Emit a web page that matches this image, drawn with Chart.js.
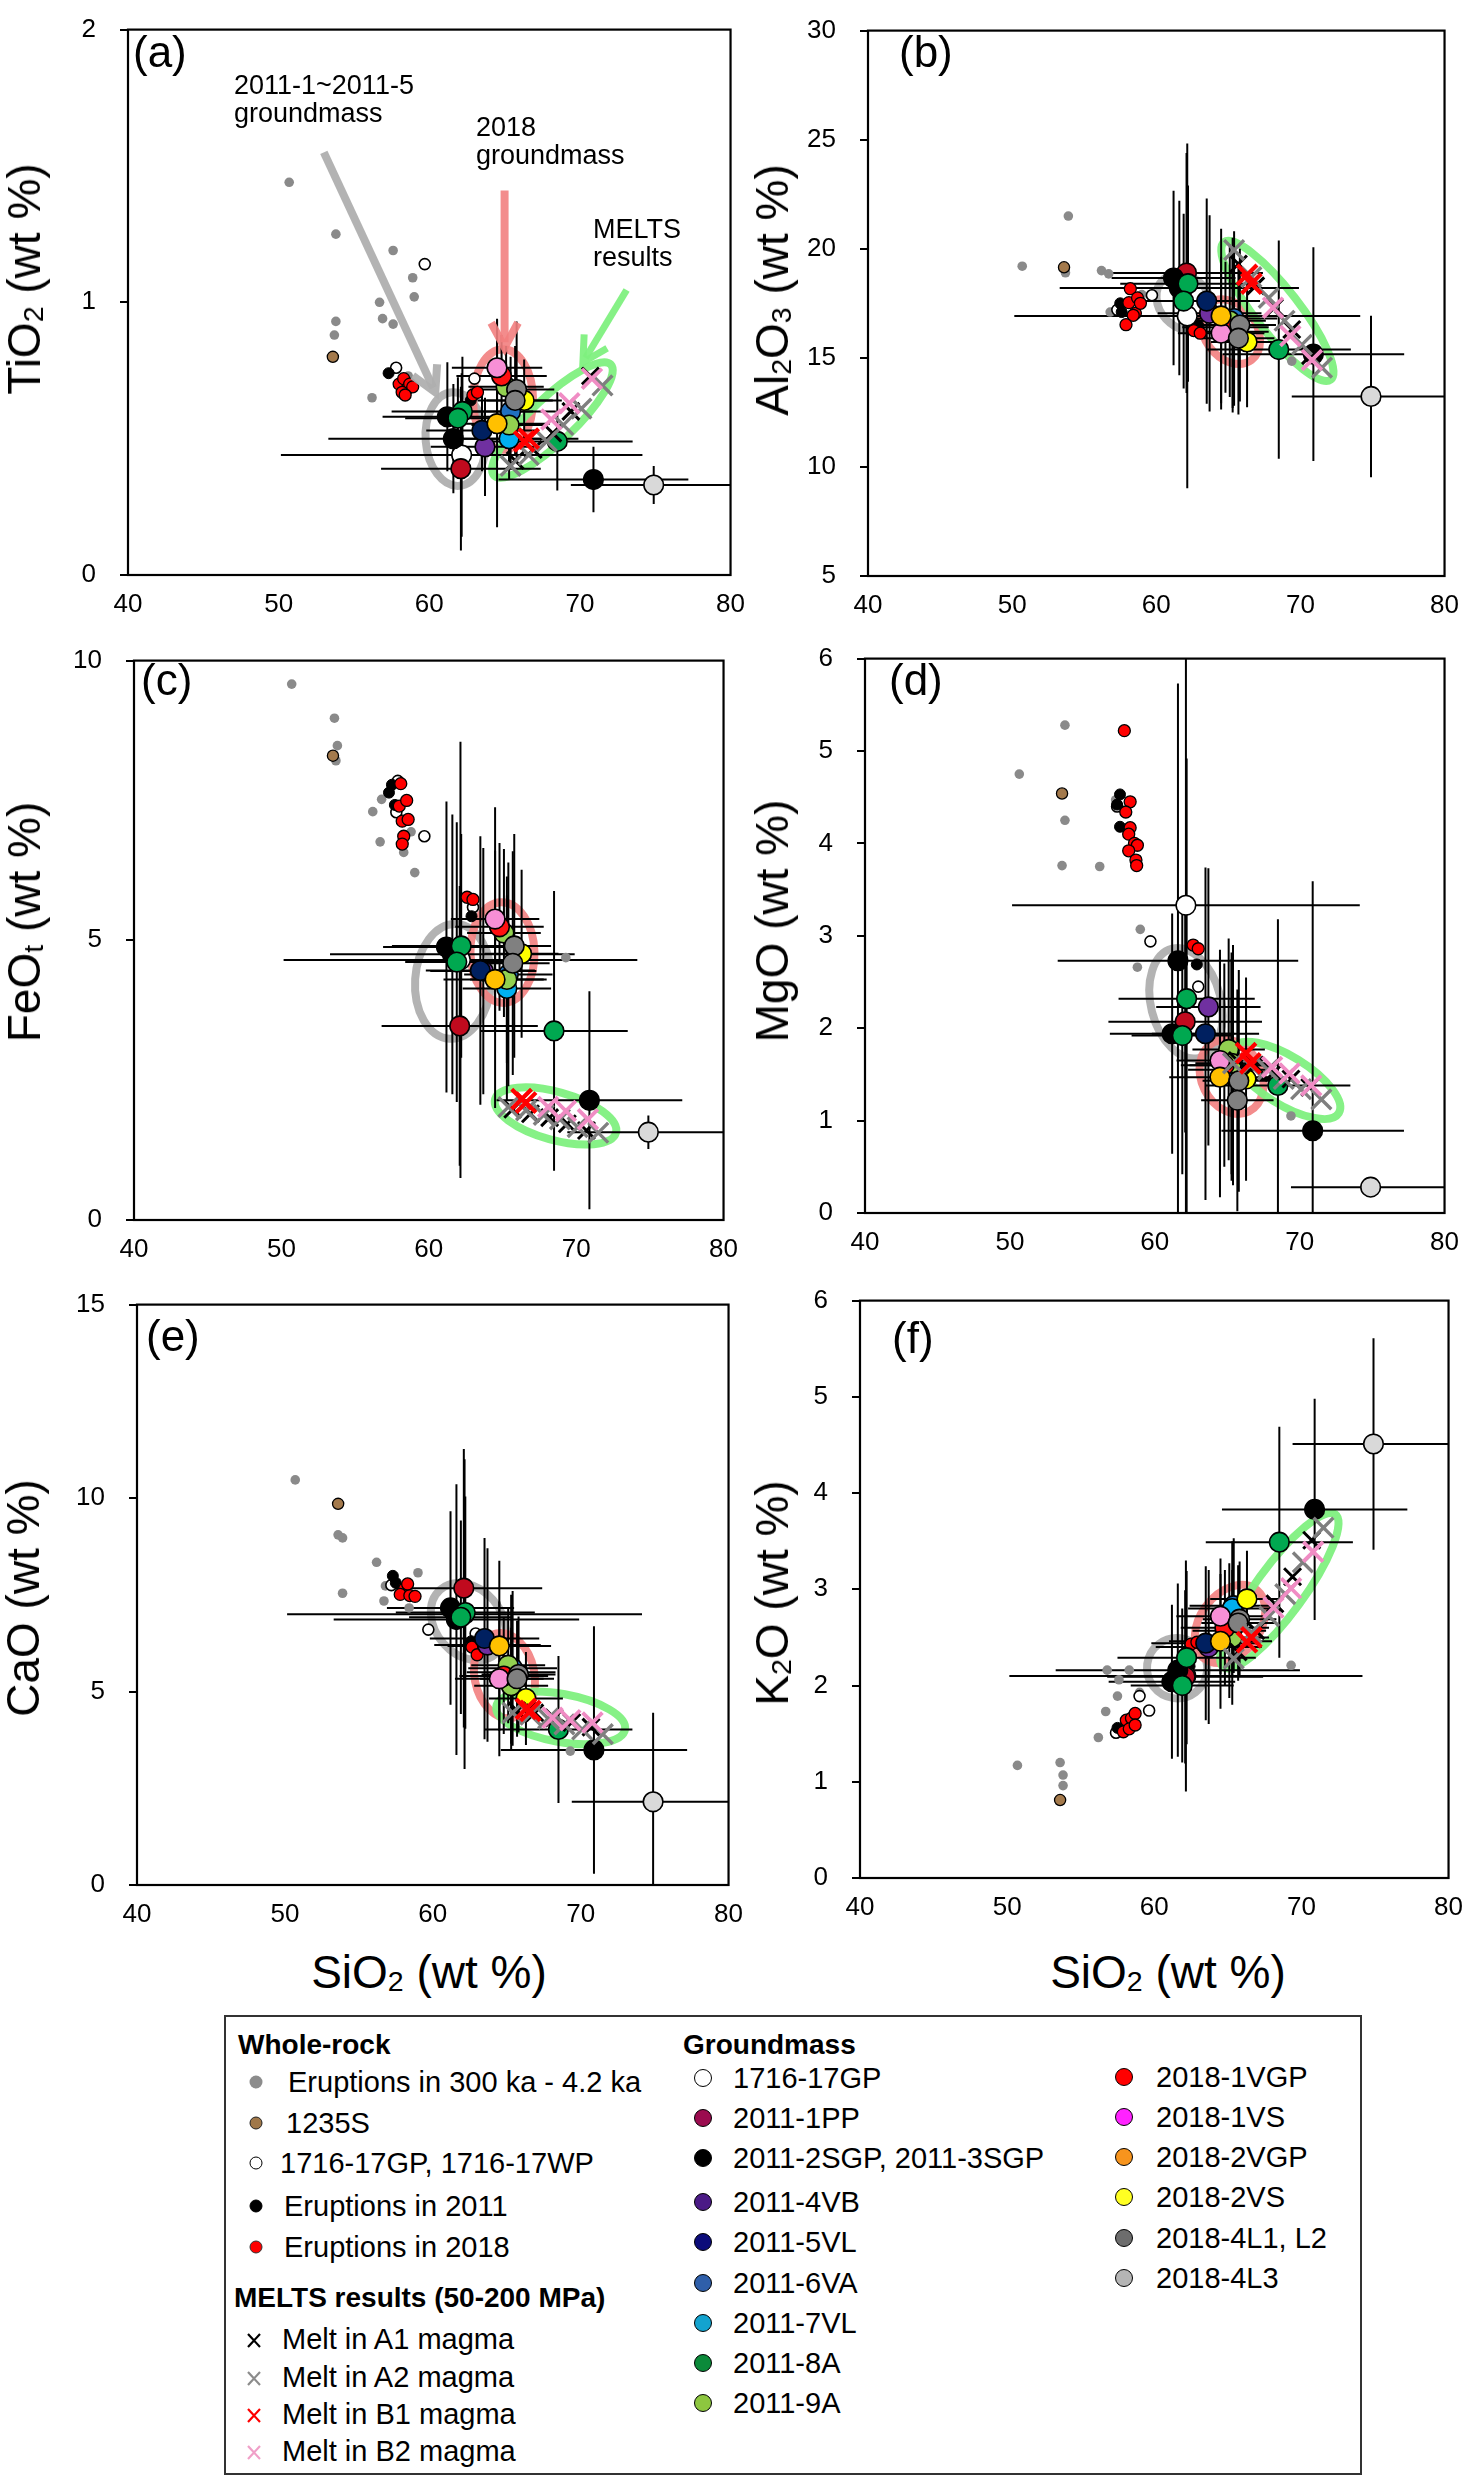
<!DOCTYPE html>
<html>
<head>
<meta charset="utf-8">
<title>SiO2 variation diagrams</title>
<script src="https://cdn.jsdelivr.net/npm/chart.js@4.4.1/dist/chart.umd.min.js"></script>
<style>
  body { margin: 0; background: #fff; }
  #page { position: relative; width: 1466px; height: 2476px; overflow: hidden;
          font-family: "Liberation Sans", Arial, Helvetica, sans-serif; color: #000; }
  #page canvas { position: absolute; }
  .lbl { position: absolute; white-space: nowrap; line-height: 1; }
  .ytitle { font-size: 46px; transform: translate(-50%, -50%) rotate(-90deg); }
  .xtitle { font-size: 46px; transform: translate(-50%, -50%); }
  .plabel { font-size: 44px; transform: translateY(-50%); }
  .note { position: absolute; font-size: 27px; line-height: 28px; white-space: nowrap; }
  .sub { font-size: 0.62em; position: relative; top: 0.12em; }
  #legend { position: absolute; left: 224px; top: 2015px; width: 1138px; height: 460px;
            border: 2px solid #333; box-sizing: border-box; font-size: 29px; }
  #legend .row { position: absolute; white-space: nowrap; line-height: 1; transform: translateY(-50%); }
  #legend .head { font-weight: bold; font-size: 28px; }
  .dot { position: absolute; border-radius: 50%; box-sizing: border-box; transform: translate(-50%, -50%); }
  .xmark { position: absolute; transform: translate(-50%, -50%); }
</style>
</head>
<body>
<div id="page"></div>
<script>
// ---------------- data ----------------
const sio2Min = 40, sio2Max = 80, sio2Step = 10;
const oxides = ['TiO2', 'Al2O3', 'FeOt', 'MgO', 'CaO', 'K2O'];
const oxideMin = [0, 5, 0, 0, 0, 0];
const oxideMax = [2, 30, 10, 6, 15, 6];
const oxideStep = [1, 5, 5, 1, 5, 1];

// whole-rock analyses, [SiO2, oxide] pairs for each panel
const wrOld = {
  TiO2: [[50.7,1.44],[53.8,1.25],[57.6,1.19],[58.9,1.09],[59.0,1.02],[56.7,1.00],[56.9,0.94],[53.8,0.93],[57.6,0.92],[53.7,0.88],[56.2,0.65],[58.6,0.73]],
  Al2O3: [[50.7,19.2],[53.9,21.5],[53.7,18.9],[56.2,19.0],[56.7,18.85],[56.8,17.1],[57.4,17.3],[59.0,17.9],[69.4,14.85]],
  FeOt: [[50.7,9.58],[53.6,8.97],[53.8,8.48],[53.7,8.21],[56.8,7.52],[56.2,7.3],[56.7,6.76],[58.3,6.57],[58.8,6.94],[59.05,6.21],[69.3,4.69]],
  MgO: [[53.8,5.28],[50.65,4.75],[53.8,4.25],[53.6,3.76],[56.2,3.75],[59.0,3.07],[58.8,2.66],[69.4,1.05],[57.3,4.47]],
  CaO: [[50.7,10.47],[53.6,9.05],[53.9,8.97],[56.2,8.34],[53.9,7.54],[56.7,7.34],[59.0,8.07],[58.4,7.16],[69.3,3.46],[56.8,7.73]],
  K2O: [[50.7,1.17],[53.6,1.20],[53.8,1.07],[53.8,0.96],[56.2,1.46],[56.7,1.73],[57.5,1.89],[57.6,2.06],[56.8,2.16],[58.3,2.16],[59.0,1.93],[69.3,2.21]]
};
const wr1235 = {
  TiO2: [[53.6,0.80]], Al2O3: [[53.6,19.15]], FeOt: [[53.5,8.3]],
  MgO: [[53.6,4.54]], CaO: [[53.6,9.85]], K2O: [[53.6,0.81]]
};
const wr1716 = {
  TiO2: [[59.7,1.14],[57.8,0.76],[63.0,0.72]],
  Al2O3: [[59.7,17.87],[62.4,16.7],[57.3,17.2]],
  FeOt: [[59.7,6.86],[63.0,5.59],[57.8,7.29],[57.9,7.85]],
  MgO: [[59.7,2.94],[63.0,2.45],[57.4,4.4]],
  CaO: [[59.7,6.6],[57.2,7.75],[62.9,6.5]],
  K2O: [[59.65,1.74],[57.4,1.51],[59.0,1.89]]
};
const wr2011 = {
  TiO2: [[57.3,0.74],[62.75,0.64]],
  Al2O3: [[57.5,17.5],[57.6,17.1],[62.9,16.5]],
  FeOt: [[57.5,7.78],[57.3,7.64],[57.7,7.42],[62.9,5.43]],
  MgO: [[57.6,4.53],[57.4,4.42],[57.6,4.18],[62.9,2.69]],
  CaO: [[57.3,7.99],[57.5,7.81],[62.6,6.3]],
  K2O: [[57.5,1.56],[62.4,2.2]]
};
const wr2018 = {
  TiO2: [[58.0,0.70],[58.3,0.72],[58.5,0.68],[58.7,0.70],[58.2,0.67],[58.9,0.69],[58.4,0.66],[62.9,0.66],[63.2,0.67]],
  Al2O3: [[58.2,18.17],[58.1,17.53],[58.7,17.75],[58.55,17.04],[58.4,16.95],[57.9,16.52],[58.9,17.5],[62.6,16.25],[63.05,16.13]],
  FeOt: [[58.0,7.4],[58.2,7.13],[58.6,7.16],[58.3,6.86],[58.2,6.72],[58.5,7.5],[62.6,5.77],[63.0,5.73],[58.1,7.8]],
  MgO: [[57.9,5.22],[58.3,4.45],[58.0,4.34],[58.3,4.17],[58.2,4.1],[58.6,4.0],[58.8,3.98],[58.2,3.92],[58.7,3.82],[58.75,3.76],[62.65,2.9],[63.0,2.86]],
  CaO: [[58.1,7.66],[57.8,7.51],[58.45,7.48],[58.8,7.46],[58.3,7.78],[62.65,6.15],[63.0,5.95]],
  K2O: [[58.1,1.64],[58.45,1.66],[58.7,1.71],[57.9,1.52],[58.3,1.55],[58.7,1.59],[62.5,2.43],[62.9,2.45]]
};

// groundmass averages (one entry per point) and 1 sigma
const gmSample = ['1716-17GP','2011-1PP','2011-2SGP, 2011-3SGP','2011-2SGP, 2011-3SGP','2011-2SGP, 2011-3SGP',
  '2011-4VB','2011-5VL','2011-6VA','2011-7VL','2011-8A','2011-8A','2011-8A','2011-9A','2011-9A',
  '2018-1VGP','2018-1VS','2018-2VGP','2018-2VS','2018-4L1, L2','2018-4L1, L2','2018-4L3'];
const gmSiO2    = [62.15,62.1,61.6,61.2,70.9,63.7,63.5,65.4,65.3,62.2,61.9,68.5,65.1,65.3,64.8,64.5,64.5,66.3,65.8,65.7,74.9];
const gmSiO2Err = [12,5.3,8.3,4.3,6.3,3.6,3.7,3,3,4.7,3.5,5,2.5,2.5,3,3,3.5,2.5,2.5,2.5,5.5];
const gmTiO2    = [0.44,0.39,0.50,0.58,0.35,0.47,0.53,0.60,0.50,0.60,0.575,0.49,0.69,0.55,0.73,0.76,0.555,0.64,0.68,0.64,0.33];
const gmTiO2Err = [0.3,0.3,0.2,0.2,0.12,0.18,0.15,0.2,0.15,0.2,0.15,0.18,0.15,0.15,0.15,0.18,0.38,0.15,0.25,0.2,0.07];
const gmAl2O3    = [16.92,18.89,18.2,18.66,15.17,17.04,17.6,16.8,16.5,18.4,17.6,15.38,16.7,16.2,16.4,16.13,16.92,15.73,16.5,15.9,13.23];
const gmAl2O3Err = [7.9,5.5,4,4,4.9,4.5,4.7,4,4,4.5,4,5,3.5,3.5,3,3.5,4,3,3.5,3.5,3.7];
const gmFeOt    = [4.65,3.47,4.75,4.88,2.14,4.45,4.46,4.39,4.14,4.9,4.61,3.38,5.13,4.3,5.24,5.38,4.3,4.76,4.9,4.59,1.57];
const gmFeOtErr = [3.9,2.5,2.5,2.6,1.95,2.2,2.4,2,2,2,2.5,2.5,1.5,1.5,1.5,2,2.3,1.5,2,2,0.3];
const gmMgO    = [3.33,2.07,2.73,1.94,0.89,2.23,1.94,1.6,1.55,2.32,1.92,1.38,1.77,1.62,1.6,1.65,1.47,1.45,1.43,1.22,0.28];
const gmMgOErr = [3.5,1.2,3.0,1.3,2.7,1.5,1.8,1.3,1.2,2.6,1.5,1.8,1.2,1.2,1.1,1.2,1.3,1.1,1.2,1.2,0.1];
const gmCaO    = [7.0,7.67,6.86,7.16,3.49,6.2,6.37,5.6,5.5,7.04,6.92,4.02,5.68,5.15,5.4,5.33,6.18,4.82,5.44,5.33,2.15];
const gmCaOErr = [4,3.6,3.5,2.5,3.2,2.5,2.6,2,2,3,2.5,1.9,1.5,1.5,1.5,2,2.2,1.2,1.5,1.5,2.3];
const gmK2O    = [2.1,2.09,2.16,2.04,3.83,2.40,2.44,2.83,2.8,2.29,2.0,3.49,2.57,2.5,2.6,2.72,2.46,2.90,2.69,2.65,4.51];
const gmK2OErr = [1.2,0.9,0.9,0.8,1.15,0.8,0.8,0.7,0.7,0.9,0.8,1.2,0.7,0.7,0.6,0.6,0.7,0.5,0.6,0.6,1.1];
const gmValues = { TiO2: gmTiO2, Al2O3: gmAl2O3, FeOt: gmFeOt, MgO: gmMgO, CaO: gmCaO, K2O: gmK2O };
const gmErrors = { TiO2: gmTiO2Err, Al2O3: gmAl2O3Err, FeOt: gmFeOtErr, MgO: gmMgOErr, CaO: gmCaOErr, K2O: gmK2OErr };

// MELTS melt compositions (50-200 MPa)
const meltA1SiO2 = [65.7, 66.9, 68.2, 69.4, 70.7];
const meltA2SiO2 = [65.4, 66.6, 67.8, 68.9, 70.1, 71.5];
const meltB1SiO2 = [66.3, 66.6];
const meltB2SiO2 = [68.1, 69.3, 70.8];
const meltA1 = { TiO2: [0.42,0.46,0.52,0.60,0.73], Al2O3: [19.3,18.3,17.3,16.3,15.1], FeOt: [1.98,1.90,1.83,1.72,1.60],
                 MgO: [1.65,1.60,1.52,1.45,1.36], CaO: [4.50,4.45,4.32,4.20,4.08], K2O: [2.35,2.57,2.85,3.13,3.51] };
const meltA2 = { TiO2: [0.40,0.44,0.49,0.55,0.61,0.695], Al2O3: [19.94,18.7,17.75,16.7,15.6,14.55], FeOt: [2.02,1.96,1.88,1.80,1.66,1.56],
                 MgO: [1.62,1.60,1.55,1.45,1.34,1.23], CaO: [4.45,4.40,4.30,4.15,4.02,3.90], K2O: [2.28,2.55,2.72,2.95,3.28,3.64] };
const meltB1 = { TiO2: [0.49,0.50], Al2O3: [18.8,18.4], FeOt: [2.16,2.10], MgO: [1.73,1.62], CaO: [4.55,4.50], K2O: [2.45,2.50] };
const meltB2 = { TiO2: [0.57,0.63,0.72], Al2O3: [17.3,16.0,14.9], FeOt: [2.02,1.95,1.80], MgO: [1.58,1.51,1.38], CaO: [4.32,4.26,4.20], K2O: [2.81,3.01,3.39] };

// field outlines: ends of the long axis in data units
const rings = {
  TiO2:  [['2011', [62.0,0.327], [61.5,0.67]], ['2018', [64.9,0.459], [64.9,0.828]], ['melts', [64.3,0.365], [72.05,0.772]]],
  Al2O3: [['2011', [60.5,18.6], [63.4,16.5]], ['2018', [63.7,17.5], [66.6,14.9]], ['melts', [64.7,20.3], [72.1,14.0]]],
  FeOt:  [['2011', [61.9,5.29], [61.4,3.24]], ['2018', [64.9,5.68], [65.1,3.88]], ['melts', [64.5,2.16], [72.7,1.56]]],
  MgO:   [['2011', [61.2,2.86], [63.1,1.68]], ['2018', [64.1,1.85], [66.5,1.10]], ['melts', [65.4,1.79], [72.7,1.08]]],
  CaO:   [['2011', [60.5,7.63], [64.3,5.98]], ['2018', [64.3,6.5], [65.4,4.32]], ['melts', [64.3,4.62], [73.0,4.02]]],
  K2O:   [['2011', [60.3,2.43], [62.8,1.93]], ['2018', [63.4,2.28], [66.9,3.0]], ['melts', [64.7,2.19], [72.3,3.78]]]
};
const ringWidth = { TiO2: [30,30,22], Al2O3: [25,26,22], FeOt: [38,32,24], MgO: [35,30,24], CaO: [33,30,24], K2O: [30,30,24] };
// arrows of panel (a): [kind, tail, head]
const arrowsA = [['2011', [53.0,1.55], [60.4,0.67]], ['2018', [65.0,1.41], [65.0,0.835]], ['melts', [73.1,1.045], [70.2,0.78]]];

// ---------------- styling ----------------
const gmColor = {
  '1716-17GP': '#ffffff', '2011-1PP': '#c00a1e', '2011-2SGP, 2011-3SGP': '#000000', '2011-4VB': '#7030a0',
  '2011-5VL': '#002060', '2011-6VA': '#2070c0', '2011-7VL': '#00b0f0', '2011-8A': '#00a850', '2011-9A': '#92d050',
  '2018-1VGP': '#ff1010', '2018-1VS': '#f78fd6', '2018-2VGP': '#ffc000', '2018-2VS': '#ffff00',
  '2018-4L1, L2': '#808080', '2018-4L3': '#d9d9d9'
};
const ringColor = { '2011': 'rgba(175,175,175,0.95)', '2018': 'rgba(242,128,128,0.9)', 'melts': 'rgba(128,240,128,0.95)' };
// plot rectangles [left, top, right, bottom] in page pixels
const boxes = [[128,12,737,575],[868,13,1451,576],[134,643,730,1220],[865,641,1451,1213],[137,1287,735,1885],[860,1283,1455,1878]];
const padL = 110, padT = 22, padR = 22, padB = 60;

Chart.defaults.font.family = '"Liberation Sans", Arial, Helvetica, sans-serif';
Chart.defaults.color = '#000';

const page = document.getElementById('page');
const pts = arr => arr.map(p => ({ x: p[0], y: p[1] }));
const zip = (xs, ys) => xs.map((x, i) => ({ x: x, y: ys[i] }));

function overlay(ox, k) {
  return {
    id: 'overlay' + k,
    beforeDatasetsDraw(chart) {
      const { ctx, chartArea: a } = chart;
      const sx = chart.scales.x, sy = chart.scales.y;
      ctx.save();
      ctx.beginPath(); ctx.rect(a.left, a.top, a.width, a.height); ctx.clip();
      rings[ox].forEach((r, j) => {
        const x1 = sx.getPixelForValue(r[1][0]), y1 = sy.getPixelForValue(r[1][1]);
        const x2 = sx.getPixelForValue(r[2][0]), y2 = sy.getPixelForValue(r[2][1]);
        ctx.beginPath();
        ctx.ellipse((x1 + x2) / 2, (y1 + y2) / 2, Math.hypot(x2 - x1, y2 - y1) / 2, ringWidth[ox][j],
                    Math.atan2(y2 - y1, x2 - x1), 0, Math.PI * 2);
        ctx.strokeStyle = ringColor[r[0]];
        ctx.lineWidth = 8;
        ctx.stroke();
      });
      ctx.strokeStyle = '#000';
      ctx.lineWidth = 2;
      chart.data.datasets.forEach(ds => {
        if (!ds.errX) return;
        ds.data.forEach((p, i) => {
          const px = sx.getPixelForValue(p.x), py = sy.getPixelForValue(p.y);
          ctx.beginPath();
          ctx.moveTo(sx.getPixelForValue(p.x - ds.errX[i]), py);
          ctx.lineTo(sx.getPixelForValue(p.x + ds.errX[i]), py);
          ctx.moveTo(px, sy.getPixelForValue(p.y - ds.errY[i]));
          ctx.lineTo(px, sy.getPixelForValue(p.y + ds.errY[i]));
          ctx.stroke();
        });
      });
      ctx.restore();
    },
    afterDatasetsDraw(chart) {
      const { ctx, chartArea: a } = chart;
      const sx = chart.scales.x, sy = chart.scales.y;
      if (ox === 'TiO2') {
        arrowsA.forEach(ar => {
          const x1 = sx.getPixelForValue(ar[1][0]), y1 = sy.getPixelForValue(ar[1][1]);
          const x2 = sx.getPixelForValue(ar[2][0]), y2 = sy.getPixelForValue(ar[2][1]);
          const ang = Math.atan2(y2 - y1, x2 - x1);
          ctx.save();
          ctx.strokeStyle = ringColor[ar[0]];
          ctx.lineWidth = ar[0] === 'melts' ? 7 : 8;
          ctx.beginPath();
          ctx.moveTo(x1, y1);
          ctx.lineTo(x2 - 5 * Math.cos(ang), y2 - 5 * Math.sin(ang));
          ctx.stroke();
          ctx.lineJoin = 'miter';
          ctx.beginPath();
          ctx.moveTo(x2 - 28 * Math.cos(ang - 0.5), y2 - 28 * Math.sin(ang - 0.5));
          ctx.lineTo(x2, y2);
          ctx.lineTo(x2 - 28 * Math.cos(ang + 0.5), y2 - 28 * Math.sin(ang + 0.5));
          ctx.stroke();
          ctx.restore();
        });
      }
      ctx.save();
      ctx.strokeStyle = '#000';
      ctx.lineWidth = 2.2;
      ctx.strokeRect(a.left, a.top, a.width, a.height);
      ctx.restore();
    }
  };
}

oxides.forEach((ox, k) => {
  const b = boxes[k];
  const cv = document.createElement('canvas');
  cv.width = padL + (b[2] - b[0]) + padR;
  cv.height = padT + (b[3] - b[1]) + padB;
  cv.style.left = (b[0] - padL) + 'px';
  cv.style.top = (b[1] - padT) + 'px';
  page.appendChild(cv);

  const datasets = [
    { label: 'Eruptions in 300 ka - 4.2 ka', data: pts(wrOld[ox]), pointRadius: 4.8,
      pointBackgroundColor: '#8a8a8a', pointBorderWidth: 0 },
    { label: '1235S', data: pts(wr1235[ox]), pointRadius: 5.6,
      pointBackgroundColor: '#a47a4c', pointBorderColor: '#000', pointBorderWidth: 1.3 },
    { label: '1716-17GP, 1716-17WP', data: pts(wr1716[ox]), pointRadius: 5.5,
      pointBackgroundColor: '#ffffff', pointBorderColor: '#000', pointBorderWidth: 1.6 },
    { label: 'Eruptions in 2011', data: pts(wr2011[ox]), pointRadius: 5.5,
      pointBackgroundColor: '#000', pointBorderColor: '#000', pointBorderWidth: 1 },
    { label: 'Eruptions in 2018', data: pts(wr2018[ox]), pointRadius: 6,
      pointBackgroundColor: '#ff0000', pointBorderColor: '#000', pointBorderWidth: 1.3 },
    { label: 'Groundmass', data: zip(gmSiO2, gmValues[ox]), errX: gmSiO2Err, errY: gmErrors[ox],
      pointRadius: 9.8, pointBackgroundColor: gmSample.map(s => gmColor[s]),
      pointBorderColor: '#000', pointBorderWidth: 1.6 },
    { label: 'Melt in A1 magma', data: zip(meltA1SiO2, meltA1[ox]), pointStyle: 'crossRot', pointRadius: 12,
      pointBorderColor: '#000', pointBorderWidth: 3 },
    { label: 'Melt in A2 magma', data: zip(meltA2SiO2, meltA2[ox]), pointStyle: 'crossRot', pointRadius: 14,
      pointBorderColor: '#7f7f7f', pointBorderWidth: 3.4 },
    { label: 'Melt in B2 magma', data: zip(meltB2SiO2, meltB2[ox]), pointStyle: 'crossRot', pointRadius: 14,
      pointBorderColor: '#f08cc4', pointBorderWidth: 3.8 },
    { label: 'Melt in B1 magma', data: zip(meltB1SiO2, meltB1[ox]), pointStyle: 'crossRot', pointRadius: 14,
      pointBorderColor: '#ff0000', pointBorderWidth: 4.2 }
  ];
  datasets.forEach((ds, i) => { ds.order = datasets.length - i; ds.showLine = false; });

  new Chart(cv, {
    type: 'scatter',
    data: { datasets: datasets },
    options: {
      responsive: false, animation: false, devicePixelRatio: 1,
      layout: { padding: { top: padT, right: padR, left: 0, bottom: 0 } },
      plugins: { legend: { display: false }, tooltip: { enabled: false } },
      scales: {
        x: {
          type: 'linear', min: sio2Min, max: sio2Max,
          ticks: { stepSize: sio2Step, padding: 14, font: { size: 26 }, color: '#000' },
          grid: { display: false, drawTicks: false }, border: { display: false },
          afterFit: s => { s.height = padB; }
        },
        y: {
          type: 'linear', min: oxideMin[k], max: oxideMax[k],
          ticks: { stepSize: oxideStep[k], padding: 24, font: { size: 26 }, color: '#000' },
          grid: { drawOnChartArea: false, drawTicks: true, tickLength: 8, color: '#000', lineWidth: 2 },
          border: { display: false },
          afterFit: s => { s.width = padL; }
        }
      }
    },
    plugins: [overlay(ox, k)]
  });
});

// ---------------- titles and notes ----------------
const yTitles = ['TiO<span class="sub">2</span> (wt %)', 'Al<span class="sub">2</span>O<span class="sub">3</span> (wt %)',
  'FeO<span class="sub">t</span> (wt %)', 'MgO (wt %)', 'CaO (wt %)', 'K<span class="sub">2</span>O (wt %)'];
const yTitlePos = [[24,279],[772,290],[24,922],[772,921],[23,1598],[772,1593]];
const xTitlePos = [[429,1972],[1168,1972]];
const panelTags = ['(a)', '(b)', '(c)', '(d)', '(e)', '(f)'];
const panelTagPos = [[133,52],[899,52],[141,680],[889,680],[146,1336],[892,1338]];
const notes = [['2011-1~2011-5<br>groundmass', 234, 71], ['2018<br>groundmass', 476, 113], ['MELTS<br>results', 593, 215]];

function put(html, cls, x, y) {
  const d = document.createElement('div');
  d.className = cls;
  d.innerHTML = html;
  d.style.left = x + 'px';
  d.style.top = y + 'px';
  page.appendChild(d);
  return d;
}
yTitles.forEach((t, i) => put(t, 'lbl ytitle', yTitlePos[i][0], yTitlePos[i][1]));
xTitlePos.forEach(p => put('SiO<span class="sub">2</span> (wt %)', 'lbl xtitle', p[0], p[1]));
panelTags.forEach((t, i) => put(t, 'lbl plabel', panelTagPos[i][0], panelTagPos[i][1]));
notes.forEach(n => put(n[0], 'note', n[1], n[2]));

// ---------------- legend ----------------
const legWhole = ['Eruptions in 300 ka - 4.2 ka', '1235S', '1716-17GP, 1716-17WP', 'Eruptions in 2011', 'Eruptions in 2018'];
const legMelts = ['Melt in A1 magma', 'Melt in A2 magma', 'Melt in B1 magma', 'Melt in B2 magma'];
const legGm2011 = ['1716-17GP', '2011-1PP', '2011-2SGP, 2011-3SGP', '2011-4VB', '2011-5VL', '2011-6VA', '2011-7VL', '2011-8A', '2011-9A'];
const legGm2018 = ['2018-1VGP', '2018-1VS', '2018-2VGP', '2018-2VS', '2018-4L1, L2', '2018-4L3'];

const leg = document.createElement('div');
leg.id = 'legend';
page.appendChild(leg);
const L0 = 226, T0 = 2017;
function legText(txt, x, y, bold) {
  const d = document.createElement('div');
  d.className = 'row' + (bold ? ' head' : '');
  d.textContent = txt;
  d.style.left = (x - L0) + 'px';
  d.style.top = (y - T0) + 'px';
  leg.appendChild(d);
}
function legDot(x, y, size, fill, border) {
  const d = document.createElement('div');
  d.className = 'dot';
  d.style.left = (x - L0) + 'px';
  d.style.top = (y - T0) + 'px';
  d.style.width = size + 'px';
  d.style.height = size + 'px';
  d.style.background = fill;
  if (border) d.style.border = '1.5px solid ' + border;
  leg.appendChild(d);
}
function legCross(x, y, color) {
  const d = document.createElement('div');
  d.className = 'xmark';
  d.style.left = (x - L0) + 'px';
  d.style.top = (y - T0) + 'px';
  d.innerHTML = '<svg width="18" height="16"><path d="M3 1.5 L15 14.5 M15 1.5 L3 14.5" stroke="' + color +
    '" stroke-width="2.2" fill="none"/></svg>';
  leg.appendChild(d);
}

const legWholeY = [2082, 2123, 2163, 2206, 2247];
const legWholeX = [288, 286, 280, 284, 284];
const legWholeFill = ['#8c8c8c', '#a0784a', '#ffffff', '#000000', '#ff0000'];
const legWholeBorder = [null, '#222', '#000', '#000', '#333'];
legText('Whole-rock', 238, 2045, true);
legWhole.forEach((t, i) => {
  legDot(256, legWholeY[i], 13, legWholeFill[i], legWholeBorder[i]);
  legText(t, legWholeX[i], legWholeY[i]);
});

const legMeltY = [2339, 2377, 2414, 2451];
const legMeltColor = ['#000000', '#8c8c8c', '#ff0000', '#f0a0c8'];
legText('MELTS results (50-200 MPa)', 234, 2298, true);
legMelts.forEach((t, i) => {
  legCross(254, legMeltY[i], legMeltColor[i]);
  legText(t, 282, legMeltY[i]);
});

const legGm2011Y = [2078, 2118, 2158, 2202, 2242, 2283, 2323, 2363, 2403];
const legGm2011Fill = ['#ffffff', '#9b0b4f', '#000000', '#4b1a86', '#0c0c7a', '#2f5faa', '#13a3cf', '#0b8a3a', '#8dc63f'];
legText('Groundmass', 683, 2045, true);
legGm2011.forEach((t, i) => {
  legDot(703, legGm2011Y[i], 18, legGm2011Fill[i], '#000');
  legText(t, 733, legGm2011Y[i]);
});

const legGm2018Y = [2077, 2117, 2157, 2197, 2238, 2278];
const legGm2018Fill = ['#ff0000', '#ff22ff', '#f7941d', '#ffff22', '#6d6d6d', '#b5b5b5'];
legGm2018.forEach((t, i) => {
  legDot(1124, legGm2018Y[i], 18, legGm2018Fill[i], '#000');
  legText(t, 1156, legGm2018Y[i]);
});
</script>
</body>
</html>
